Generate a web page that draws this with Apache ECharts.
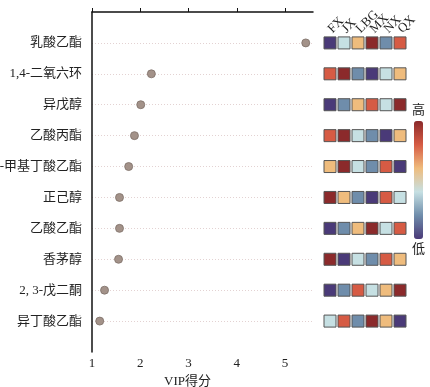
<!DOCTYPE html>
<html><head><meta charset="utf-8">
<script src="https://cdn.jsdelivr.net/npm/echarts@6/dist/echarts.min.js"></script>
<style>html,body{margin:0;padding:0;background:#fff}#c{width:430px;height:387px}</style>
</head><body><div id="c"></div>
<script>
const compounds = ['乳酸乙酯','1,4-二氧六环','异戊醇','乙酸丙酯','2-甲基丁酸乙酯','正己醇','乙酸乙酯','香茅醇','2, 3-戊二酮','异丁酸乙酯'];
const vipScores = [5.43, 2.23, 2.01, 1.88, 1.76, 1.57, 1.57, 1.55, 1.26, 1.16];
const groups = ['FX','JX','LBG','MX','NX','QX'];
const ranks = [
  [1,3,4,6,2,5],
  [5,6,2,1,3,4],
  [1,2,4,5,3,6],
  [5,6,3,2,1,4],
  [4,6,3,2,5,1],
  [6,4,2,1,5,3],
  [1,2,4,6,3,5],
  [6,1,3,2,5,4],
  [1,2,5,3,4,6],
  [3,5,2,6,4,1]
];
const xTicks = [1,2,3,4,5];
const rampColors = ['#4a3a78','#6f8dab','#c6e0e3','#efbc7d','#d65b44','#8b2a2b'];

const font = "'Liberation Serif','Noto Sans CJK SC',serif";
const chart = echarts.init(document.getElementById('c'), null, {renderer:'canvas'});
const dots = vipScores.map((v,i)=>[v, i+1]);
const cells = [];
ranks.forEach((row,i)=>row.forEach((r,j)=>cells.push([j, i+1, r])));

chart.setOption({
  animation:false,
  grid:[
    {left:92, top:12, width:221, height:340, containLabel:false, outerBoundsMode:'none'},
    {left:323, top:12, width:84, height:340, containLabel:false, outerBoundsMode:'none'}
  ],
  xAxis:[
    {gridIndex:0, type:'value', min:1, max:5.58,
     name:'VIP得分', nameLocation:'middle', nameGap:22,
     nameTextStyle:{fontFamily:font, fontSize:13, color:'#222', padding:[0,30,0,0]},
     axisLine:{lineStyle:{color:'#111', width:1.5}},
     axisTick:{inside:true, length:4, customValues:xTicks, lineStyle:{color:'#111'}},
     axisLabel:{customValues:xTicks, fontFamily:font, fontSize:13, color:'#222', margin:5},
     splitLine:{show:false}},
    {gridIndex:1, type:'category', data:groups, position:'top',
     axisLine:{show:false}, axisTick:{show:false},
     axisLabel:{rotate:45, fontFamily:font, fontSize:13, color:'#222', margin:-19, interval:0}}
  ],
  yAxis:[
    {gridIndex:0, type:'value', inverse:true, min:0, max:11, interval:1,
     axisLine:{show:true, lineStyle:{color:'#111', width:1.5}},
     axisTick:{show:false},
     axisLabel:{fontFamily:font, fontSize:13, color:'#222', margin:10,
       formatter:v=>compounds[v-1]||''},
     splitLine:{show:true, showMinLine:false, showMaxLine:false,
       lineStyle:{color:'#e3d2d2', type:[1,2], width:1}}},
    {gridIndex:1, type:'value', inverse:true, min:0, max:11, show:false}
  ],
  visualMap:{
    type:'continuous', seriesIndex:1, dimension:2, min:1, max:6,
    inRange:{color:rampColors}, text:['高','低'], textGap:4,
    textStyle:{fontFamily:font, fontSize:13, color:'#222'},
    orient:'vertical', left:412, top:104, itemWidth:9, itemHeight:118,
    padding:0, calculable:false, hoverLink:false
  },
  series:[
    {type:'scatter', xAxisIndex:0, yAxisIndex:0, data:dots, symbolSize:8,
     itemStyle:{color:'#a39289', borderColor:'#7c6f67', borderWidth:0.8, opacity:1}},
    {type:'scatter', xAxisIndex:1, yAxisIndex:1, data:cells, symbol:'rect', symbolSize:12,
     itemStyle:{borderColor:'#555', borderWidth:1, opacity:1}}
  ]
});
</script></body></html>
